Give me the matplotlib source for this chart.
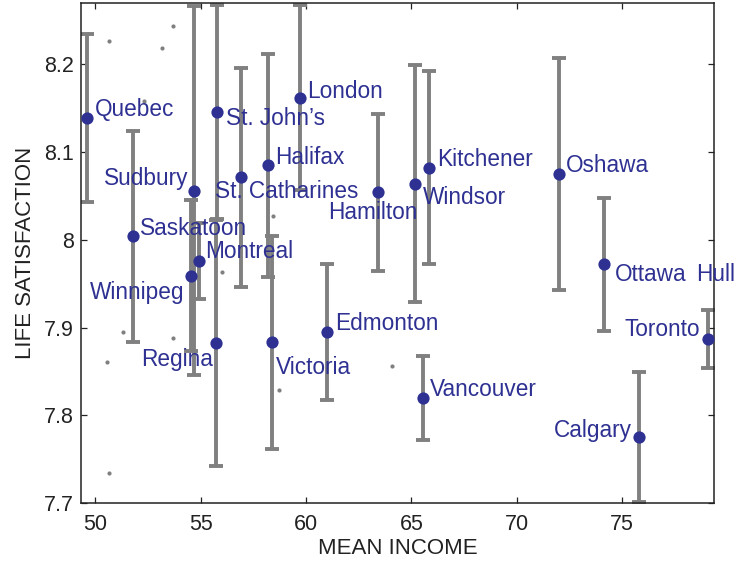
import matplotlib
matplotlib.use("Agg")
import matplotlib.pyplot as plt
from matplotlib.ticker import FormatStrFormatter

plt.rcParams['font.family'] = ['Liberation Sans', 'DejaVu Sans']

# city means with half-width of the confidence interval
cities = ['Quebec', 'Sudbury', 'Winnipeg', 'Montreal', 'Regina', "St. John\u2019s",
          'Saskatoon', 'St. Catharines', 'Halifax', 'London', 'Victoria',
          'Edmonton', 'Hamilton', 'Windsor', 'Kitchener', 'Vancouver',
          'Oshawa', 'Ottawa', 'Toronto', 'Calgary', 'Hull']
income = [49.61, 54.68, 54.54, 54.92, 55.73, 55.78, 51.79, 56.92, 58.20, 59.72,
          58.39, 61.00, 63.42, 65.17, 65.84, 65.55, 72.01, 74.15, 79.07, 75.80, 80.6]
satisfaction = [8.139, 8.056, 7.959, 7.976, 7.882, 8.146, 8.004, 8.071, 8.085, 8.162,
                7.883, 7.895, 8.054, 8.064, 8.082, 7.820, 8.075, 7.972, 7.887, 7.775, 7.970]
err = [0.096, 0.210, 0.086, 0.043, 0.140, 0.122, 0.120, 0.125, 0.127, 0.105,
       0.121, 0.077, 0.089, 0.135, 0.110, 0.048, 0.132, 0.076, 0.033, 0.074, 0.05]

# label placement: (dx, dy) in pixels, horizontal alignment
label_pos = {
    'Quebec': (8, 8, 'left'), 'Sudbury': (-6, 12, 'right'),
    'Winnipeg': (-7, -17, 'right'), 'Montreal': (6, 9, 'left'),
    'Regina': (-3, -16, 'right'), "St. John\u2019s": (9, -7, 'left'),
    'Saskatoon': (7, 8, 'left'), 'St. Catharines': (-26, -14, 'left'),
    'Halifax': (7, 8, 'left'), 'London': (7, 6, 'left'),
    'Victoria': (4, -25, 'left'), 'Edmonton': (8, 8, 'left'),
    'Hamilton': (-5, -20, 'center'), 'Windsor': (8, -14, 'left'),
    'Kitchener': (8, 8, 'left'), 'Vancouver': (7, 8, 'left'),
    'Oshawa': (7, 8, 'left'), 'Ottawa': (11, -10, 'left'),
    'Toronto': (-8, 9, 'right'), 'Calgary': (-7, 7, 'right'),
    'Hull': (-5, -8, 'right'),
}

# scattered individual observations
dots_x = [50.65, 53.17, 53.69, 52.31, 51.31, 53.69, 50.56, 56.01, 58.43, 58.72, 64.08, 50.65]
dots_y = [8.226, 8.218, 8.244, 8.158, 7.895, 7.888, 7.861, 7.963, 8.027, 7.829, 7.856, 7.734]

blue = '#2e3192'
gray = '#808080'

fig = plt.figure(figsize=(7.37, 5.64), dpi=100)
ax = fig.add_axes([0.110, 0.108, 0.859, 0.887])

ax.plot(dots_x, dots_y, 'o', color=gray, markersize=3, markeredgewidth=0, zorder=1)
ax.errorbar(income, satisfaction, yerr=err, fmt='none', ecolor=gray,
            elinewidth=2.8, capsize=4.8, capthick=2.8, zorder=2)
ax.plot(income, satisfaction, 'o', color=blue, markersize=8.8, markeredgewidth=0, zorder=3)

for name, x, y in zip(cities, income, satisfaction):
    dx, dy, ha = label_pos[name]
    ax.annotate(name, (x, y), xytext=(dx, dy), textcoords='offset pixels',
                ha=ha, va='center', color=blue, fontsize=16.3, annotation_clip=False)

ax.set_xlim(49.32, 79.37)
ax.set_ylim(7.7, 8.27)
ax.set_xticks([50, 55, 60, 65, 70, 75])
ax.set_yticks([7.7, 7.8, 7.9, 8.0, 8.1, 8.2])
ax.yaxis.set_major_formatter(FormatStrFormatter('%g'))
ax.tick_params(direction='in', top=True, right=True, length=4.5, width=0.9,
               labelsize=15.5, colors='#222222')
ax.tick_params(axis='x', pad=8)
ax.tick_params(axis='y', pad=5)
for s in ax.spines.values():
    s.set_color('#222222')
    s.set_linewidth(1.1)

ax.set_xlabel('MEAN INCOME', fontsize=16, color='#222222', labelpad=2)
ax.set_ylabel('LIFE SATISFACTION', fontsize=16, color='#222222', labelpad=6)

fig.savefig('out.png', dpi=100)
